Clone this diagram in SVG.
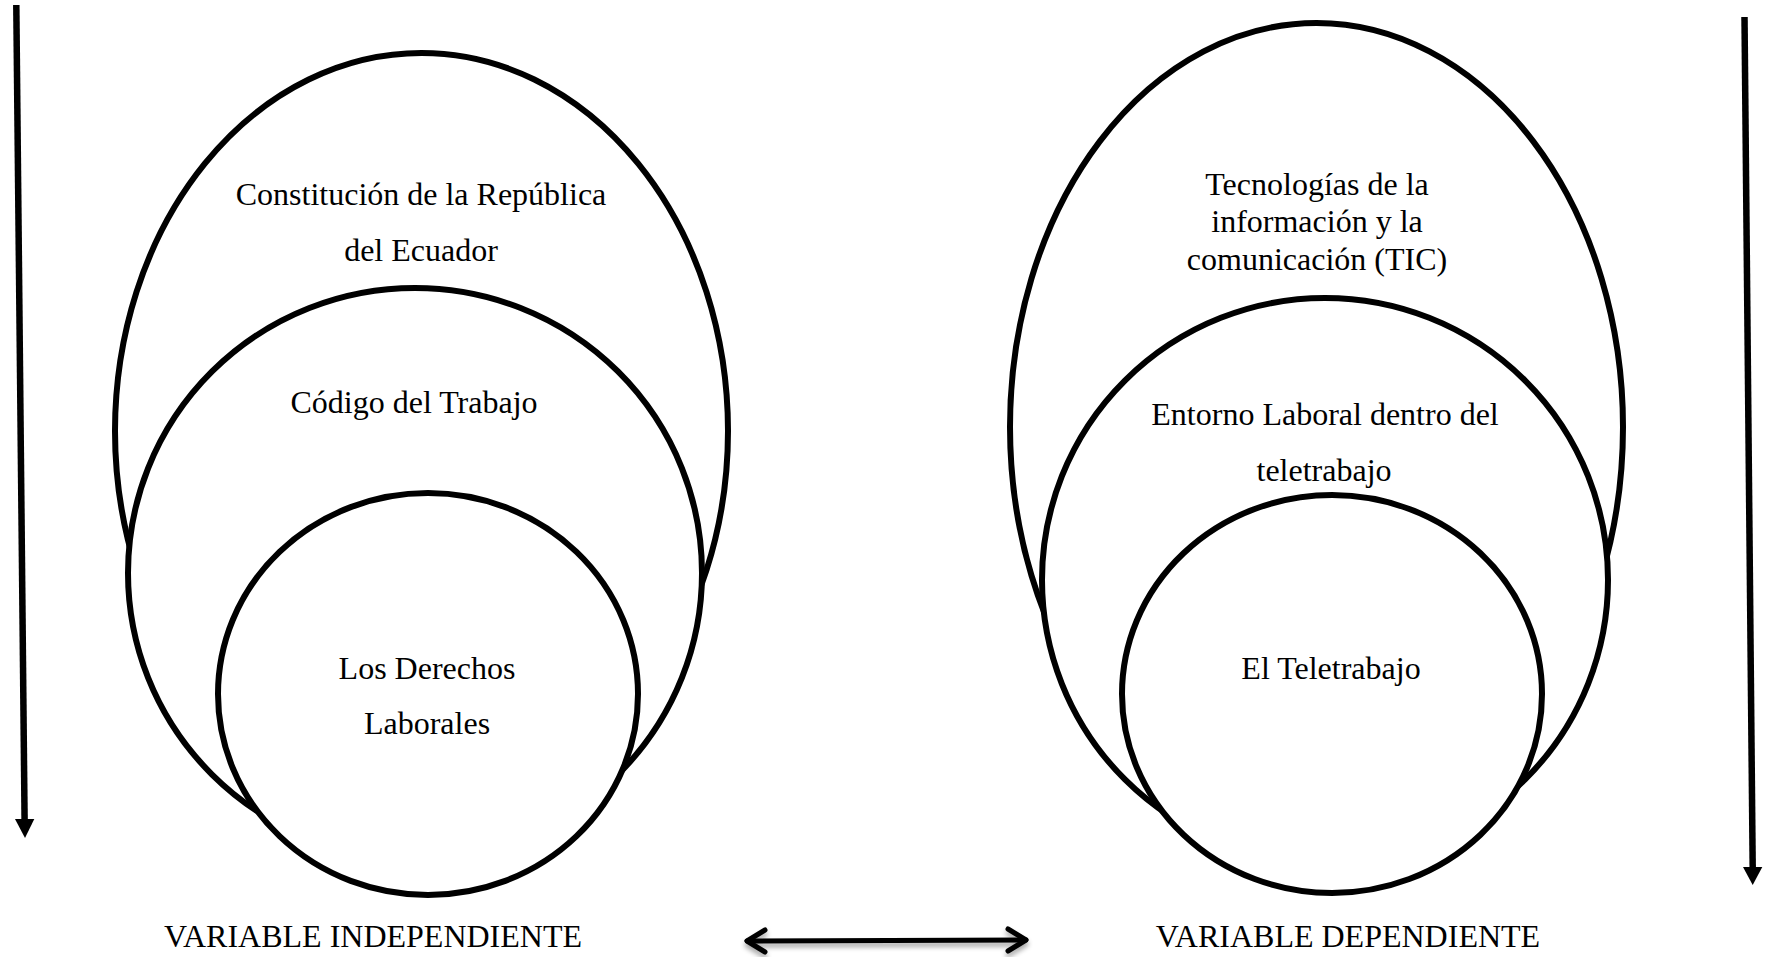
<svg xmlns="http://www.w3.org/2000/svg" width="1765" height="957" viewBox="0 0 1765 957">
  <style>
    .ring { fill: #ffffff; stroke: #000000; stroke-width: 6; }
    .label { font-family: "Liberation Serif", "Times New Roman", serif; font-size: 32px; fill: #000000; text-anchor: middle; }
    .shaft { stroke: #000000; stroke-width: 6.5; fill: none; }
    .head { fill: #000000; }
    .link { stroke: #000000; stroke-width: 5; fill: none; stroke-linecap: round; stroke-linejoin: round; }
  </style>
  <defs>
    <filter id="shadow" x="-10%" y="-100%" width="120%" height="300%">
      <feGaussianBlur in="SourceAlpha" stdDeviation="2.5"/>
      <feOffset dx="0" dy="4" result="b"/>
      <feComponentTransfer><feFuncA type="linear" slope="0.35"/></feComponentTransfer>
      <feMerge><feMergeNode/><feMergeNode in="SourceGraphic"/></feMerge>
    </filter>
  </defs>
  <rect width="1765" height="957" fill="#ffffff"/>

  <!-- Independent variable: nested sets -->
  <g id="constitucion">
    <ellipse class="ring" cx="421.5" cy="431" rx="306.5" ry="378"/>
    <text class="label" x="421" y="205">Constitución de la República</text>
    <text class="label" x="421" y="261">del Ecuador</text>
  </g>
  <g id="codigo-trabajo">
    <ellipse class="ring" cx="415" cy="573" rx="287" ry="285"/>
    <text class="label" x="414" y="413">Código del Trabajo</text>
  </g>
  <g id="derechos-laborales">
    <ellipse class="ring" cx="428" cy="694" rx="210" ry="201"/>
    <text class="label" x="427" y="679">Los Derechos</text>
    <text class="label" x="427" y="734">Laborales</text>
  </g>

  <!-- Dependent variable: nested sets -->
  <g id="tic">
    <ellipse class="ring" cx="1316.5" cy="427" rx="306.5" ry="404"/>
    <text class="label" x="1317" y="195">Tecnologías de la</text>
    <text class="label" x="1317" y="232">información y la</text>
    <text class="label" x="1317" y="270">comunicación (TIC)</text>
  </g>
  <g id="entorno-laboral">
    <ellipse class="ring" cx="1325" cy="580" rx="283" ry="282"/>
    <text class="label" x="1325" y="425">Entorno Laboral dentro del</text>
    <text class="label" x="1324" y="481">teletrabajo</text>
  </g>
  <g id="teletrabajo">
    <ellipse class="ring" cx="1332" cy="694" rx="210" ry="199"/>
    <text class="label" x="1331" y="679">El Teletrabajo</text>
  </g>

  <!-- Captions -->
  <g id="caption-independiente">
    <text class="label" x="373" y="947">VARIABLE INDEPENDIENTE</text>
  </g>
  <g id="caption-dependiente">
    <text class="label" x="1348" y="947">VARIABLE DEPENDIENTE</text>
  </g>

  <!-- Connectors -->
  <g id="connectors">
    <line class="shaft" x1="16.3" y1="5" x2="24.6" y2="821"/>
    <polygon class="head" points="15,819 34.3,819 25,838"/>
    <line class="shaft" x1="1744.5" y1="17" x2="1752.7" y2="869"/>
    <polygon class="head" points="1743,867 1762.3,867 1752.7,885"/>
    <g filter="url(#shadow)">
      <line class="link" x1="747" y1="941" x2="1026" y2="940"/>
      <polyline class="link" points="765,930 747,941 765,952"/>
      <polyline class="link" points="1008,929 1026,940 1008,951"/>
    </g>
  </g>
</svg>
